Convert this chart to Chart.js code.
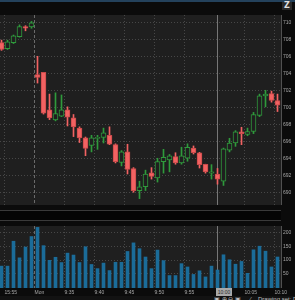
<!DOCTYPE html>
<html>
<head>
<meta charset="utf-8">
<script src="https://cdn.jsdelivr.net/npm/chart.js@4.4.1/dist/chart.umd.min.js"></script>
<style>
  body { margin:0; width:295px; height:300px; background:#0b0b0b; position:relative; overflow:hidden; font-family:"Liberation Sans", sans-serif; }
  #topline { position:absolute; left:0; top:0; width:295px; height:2px; background:#24425c; }
  #zbtn { position:absolute; left:282px; top:2px; width:10px; height:8px; background:#2a2a2a; color:#e0e0e0; font:bold 8px "DejaVu Sans"; line-height:8px; text-align:center; }
  #price { position:absolute; left:0; top:10px; }
  #sep { position:absolute; left:0; top:210px; width:281px; height:9px; background:#050505; border-top:1px solid #3a3a3a; border-bottom:1px solid #3a3a3a; }
  #vol { position:absolute; left:0; top:221px; }
  #cursorLbl { position:absolute; left:216px; top:288px; width:16px; height:8px; background:#a8a8a8; color:#2a2a2a; font-size:5px; line-height:8px; text-align:center; }
  #tools { position:absolute; left:0; top:296px; width:295px; height:4px; background:#121212; overflow:hidden; }
  #tools span { position:absolute; top:0px; font-size:6px; line-height:6px; color:#c0c0c0; white-space:nowrap; }
</style>
</head>
<body>
<div id="topline"></div>
<div id="zbtn">Z</div>
<canvas id="price" width="295" height="200"></canvas>
<div id="sep"></div>
<canvas id="vol" width="295" height="79"></canvas>
<div id="cursorLbl">10:00</div>
<div id="tools"><span style="left:214px">&#9635; &#8853; &#8854; &#9635;</span><span style="left:250px">&#8725;</span><span style="left:258px">Drawing set: Default</span></div>
<script>
// 1 minute candles, Friday close then Monday open
const times = ['15:54','15:55','15:56','15:57','15:58','15:59',
  '9:30','9:31','9:32','9:33','9:34','9:35','9:36','9:37','9:38','9:39',
  '9:40','9:41','9:42','9:43','9:44','9:45','9:46','9:47','9:48','9:49',
  '9:50','9:51','9:52','9:53','9:54','9:55','9:56','9:57','9:58','9:59',
  '10:00','10:01','10:02','10:03','10:04','10:05','10:06','10:07','10:08','10:09','10:10'];
const open  = [707.6,706.9,707.6,708.3,709.5,709.45,703.85,704.1,699.7,698.5,698.95,699.7,698.75,697.55,696.4,695.5,
  696.35,696.45,696.7,695.6,693.5,694.75,692.8,690.2,690.65,692.3,691.7,693.6,693.8,694.2,693.45,694.0,
  695.2,694.65,693.3,692.25,692.15,691.3,694.95,695.8,697.1,696.8,697.15,699.05,701.35,701.6,700.8];
const high  = [707.9,707.9,708.5,709.7,709.6,710.1,706.0,704.1,701.55,701.7,701.45,700.05,699.15,697.7,696.5,696.7,
  696.7,697.55,697.7,695.7,694.9,695.65,692.9,691.3,692.6,692.9,694.0,695.05,694.45,694.65,695.3,695.7,
  695.45,694.7,693.3,693.25,692.8,695.2,696.35,697.25,697.65,697.55,699.4,701.55,702.0,701.9,701.55];
const low   = [706.7,706.8,707.5,708.25,709.0,709.3,702.85,699.2,698.55,698.4,698.9,697.8,696.55,695.85,694.3,694.75,
  695.05,695.8,695.6,693.45,693.1,692.15,690.0,689.25,690.2,691.55,691.2,692.25,692.4,693.3,693.3,693.65,
  694.5,692.85,692.25,691.55,690.95,690.8,694.75,695.4,695.6,696.65,696.9,698.9,700.05,700.6,699.5];
const close = [706.8,707.7,708.4,709.5,709.3,709.95,703.5,699.3,698.75,699.25,699.7,698.85,697.7,696.4,695.15,696.4,
  696.45,697.0,695.65,693.6,694.75,692.7,690.2,690.65,692.15,691.85,693.6,694.1,694.3,693.45,694.3,695.3,
  694.65,693.25,692.4,692.4,691.55,695.1,695.8,697.1,696.9,697.15,699.15,701.35,701.55,700.8,700.25];
const volume = [78,78,168,108,147,185,218,152,99,110,91,125,118,91,148,84,
  69,89,62,92,92,131,162,141,111,69,136,98,44,44,87,75,
  48,61,39,78,64,119,101,85,95,52,137,150,132,75,111];

const xTickTimes = ['15:55','9:30','9:35','9:40','9:45','9:50','9:55','10:00','10:05','10:10'];
const xTickNames = ['15:55','Mon','9:35','9:40','9:45','9:50','9:55','10:00','10:05','10:10'];
const priceTicks = [690,692,694,696,698,700,702,704,706,708,710];
const volTicks = [50,100,150,200];
const dayStart = '9:30';
const cursorTime = '10:00';

const GREEN = '#2f9a3c', RED = '#f26262', RED_EDGE = '#c84a4a';
const PLOT_BG = '#1f1f1f', GRID = '#474747', TXT = '#a6a6a6';
const X_MIN = -0.25, X_MAX = 281 / 6 - 0.25;

const dayIdx = times.indexOf(dayStart);
const curIdx = times.indexOf(cursorTime);
const xTickPos = xTickTimes.map(t => times.indexOf(t) - 0.5);
const up = close.map((c, i) => c >= open[i]);
const font = { family: 'Liberation Sans', size: 5 };

const panel = {
  id: 'panel',
  beforeDraw(chart) {
    const { ctx, chartArea: a } = chart;
    ctx.save();
    ctx.fillStyle = PLOT_BG;
    ctx.fillRect(a.left, a.top, a.right - a.left, a.bottom - a.top);
    ctx.restore();
  },
  beforeDatasetsDraw(chart) {
    const { ctx, chartArea: a, scales: { x } } = chart;
    ctx.save();
    // day break
    ctx.strokeStyle = '#6a6a6a';
    ctx.setLineDash([3, 2]);
    const xd = Math.floor(x.getPixelForValue(dayIdx - 0.5)) + 0.5;
    ctx.beginPath(); ctx.moveTo(xd, a.top); ctx.lineTo(xd, a.bottom); ctx.stroke();
    // cursor
    ctx.setLineDash([]);
    ctx.strokeStyle = '#777';
    const xc = Math.floor(x.getPixelForValue(curIdx)) + 0.5;
    ctx.beginPath(); ctx.moveTo(xc, a.top); ctx.lineTo(xc, a.bottom); ctx.stroke();
    ctx.restore();
  },
  afterDraw(chart) {
    const { ctx, chartArea: a } = chart;
    ctx.save();
    ctx.fillStyle = '#505050';
    ctx.fillRect(a.right, a.top, 1, a.bottom - a.top);
    ctx.restore();
  }
};

function xScale(showLabels) {
  return {
    type: 'linear', min: X_MIN, max: X_MAX, offset: false,
    afterBuildTicks: s => { s.ticks = xTickPos.map(v => ({ value: v })); },
    afterFit: s => { s.height = showLabels ? 12 : 0; },
    grid: {
      offset: false, drawTicks: false,
      color: c => (c.tick && (c.tick.value === dayIdx - 0.5 || c.tick.value === curIdx - 0.5)) ? 'rgba(0,0,0,0)' : GRID
    },
    border: { display: false, dash: [1, 2] },
    ticks: {
      display: showLabels, align: 'start', autoSkip: false, maxRotation: 0, padding: 2,
      color: TXT, font,
      callback: (v, i) => xTickNames[i] === cursorTime ? '' : xTickNames[i]
    }
  };
}

function yScale(min, max, list) {
  return {
    position: 'right', min, max,
    afterBuildTicks: s => { s.ticks = list.map(v => ({ value: v })); },
    afterFit: s => { s.width = 14; },
    grid: { drawTicks: false, color: GRID },
    border: { display: false, dash: [1, 2] },
    ticks: { color: TXT, font, padding: 2 }
  };
}

new Chart(document.getElementById('price'), {
  type: 'bar',
  data: {
    datasets: [
      {
        data: times.map((t, i) => ({ x: i, y: [open[i], close[i]] })),
        backgroundColor: up.map(u => u ? PLOT_BG : RED),
        borderColor: up.map(u => u ? GREEN : RED_EDGE),
        borderWidth: 1, borderSkipped: false, barThickness: 5, minBarLength: 1,
        grouped: false, order: 0
      },
      {
        data: times.map((t, i) => ({ x: i, y: [low[i], high[i]] })),
        backgroundColor: up.map(u => u ? GREEN : RED),
        barThickness: 1, grouped: false, order: 1
      }
    ]
  },
  options: {
    responsive: false, animation: false,
    layout: { padding: 0 },
    plugins: { legend: { display: false }, tooltip: { enabled: false } },
    scales: { x: xScale(false), y: yScale(688.5, 710.86, priceTicks) }
  },
  plugins: [panel]
});

new Chart(document.getElementById('vol'), {
  type: 'bar',
  data: {
    datasets: [{
      data: times.map((t, i) => ({ x: i, y: volume[i] })),
      backgroundColor: '#1b6c99',
      barThickness: 3, grouped: false
    }]
  },
  options: {
    responsive: false, animation: false,
    layout: { padding: 0 },
    plugins: { legend: { display: false }, tooltip: { enabled: false } },
    scales: { x: xScale(true), y: yScale(-1, 223, volTicks) }
  },
  plugins: [panel]
});
</script>
</body>
</html>
